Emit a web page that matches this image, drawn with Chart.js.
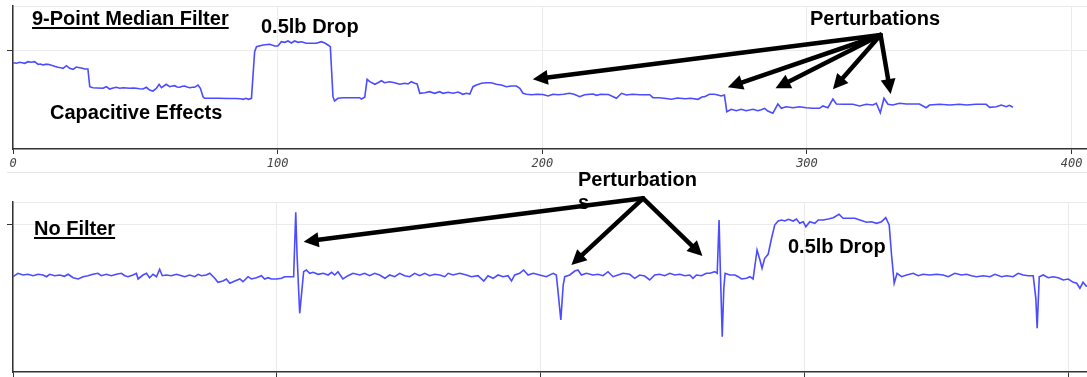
<!DOCTYPE html>
<html>
<head>
<meta charset="utf-8">
<script src="https://cdn.jsdelivr.net/npm/chart.js@4.4.1/dist/chart.umd.min.js"></script>
<style>
  html, body { margin:0; padding:0; background:#fff; width:1087px; height:377px; overflow:hidden; }
  #wrap { position:relative; width:1087px; height:377px; overflow:hidden; }
  canvas { position:absolute; left:0; }
  #c1 { top:0; }
  #c2 { top:170px; }
  .note { position:absolute; font-family:"Liberation Sans", Arial, sans-serif; font-weight:bold; font-size:20px; line-height:20px; color:#000; white-space:nowrap; z-index:2; }
  .ul { text-decoration:underline; text-decoration-thickness:2px; text-underline-offset:2px; }
  .rule { position:absolute; height:1px; background:#e6e6e6; }
</style>
</head>
<body>
<div id="wrap">
  <canvas id="c1" width="1087" height="176"></canvas>
  <canvas id="c2" width="1087" height="230"></canvas>
  <div class="rule" style="top:172px;left:7px;width:1080px;"></div>
  <div class="note ul" style="left:32px;top:8px;">9-Point Median Filter</div>
  <div class="note" style="left:261px;top:16px;">0.5lb Drop</div>
  <div class="note" style="left:50px;top:102px;">Capacitive Effects</div>
  <div class="note" style="left:810px;top:8px;">Perturbations</div>
  <div class="note" style="left:578px;top:168px;line-height:23px;">Perturbation<br>s</div>
  <div class="note ul" style="left:34px;top:218px;">No Filter</div>
  <div class="note" style="left:788px;top:236px;">0.5lb Drop</div>
</div>
<script>
// ---------- data: 9-point median filtered signal ----------
const filteredX = [0,1.3,2.5,3.5,4.4,5.7,6.9,8.2,9.5,10.4,11.3,12.2,13.2,14.2,15.1,16,17,18,18.9,20.2,21.4,22.7,23.9,25.2,26.2,27.1,28.3,
29,30.2,32,34,35.3,36.5,37.8,39.1,40.3,41.6,42.9,44.1,45.4,46.6,47.8,49.1,50.4,51.6,52.9,54.2,55.2,56.1,57.9,59.2,60.2,61.1,62,63,64,64.9,65.8,66.8,67.7,68.6,69.9,70.8,
71.8,72.4,75,78,81,84,86,87,88,89,90.1,
91.3,92,94.5,97,98.9,100.1,101.4,102.7,103.9,105.2,106.4,107.7,109,110.8,112.7,114.6,116.5,117.8,119,119.9,
120.9,121.5,122.8,124.7,127,129,131,131.6,132.9,
133.8,134.8,136.7,137.9,139.2,140.4,142.3,144.2,146.1,148,149.3,150.5,151.8,152.7,
153.7,155.6,157.4,159.3,161.2,162.5,164.4,166.3,168.2,170,171.3,172.6,
173.8,175.1,177,178.9,180.7,182.6,184.5,186.4,188.3,190.2,191.5,
192.7,194,196,198,200.2,202.2,204,206,208,210.3,212,214.1,216,218,219.2,220.5,222,225,228,229.9,231.8,234,237,240.6,
241.8,244,246,248.8,251,254,256,258.8,260.5,261.3,263.2,265.1,266.3,267.6,268.8,
269.7,271.4,273.3,275.1,277,279.6,281.4,282.7,284,285.2,287.1,289,290.3,292.1,294.7,297.2,299.7,302.2,304.7,306,307.9,
309.8,311.1,313.6,317.3,319.9,322.4,324.9,326.2,327.7,329.1,330.6,332.4,335,337.5,340,342.5,345,346.3,350.1,353.9,357.6,360.2,363.9,367.7,369,371.5,373.4,375.3,376.5,377.8];
const filteredY = [86.3,85.7,86.7,86.2,85.7,87.3,86.7,87.3,84.7,85,84,84.6,84.7,84,83.3,82.5,81.7,81.2,80.7,83.3,80.7,79.7,82,81.3,80.7,80,80,
62.3,61.3,61,60.7,62.3,60,61,61.7,60.7,61.3,61,60.7,61,60.7,60.3,60,61.7,59,58,60.7,64.7,61.3,64.7,62.3,63,63.3,62,61.7,62.7,63,62,61.3,61.7,61.7,64,60.7,
52.3,50.7,50.7,50.7,50.5,50.5,50.2,49.7,50.7,49.7,50.7,
97.3,102.3,104,104.7,103,103,107.3,106.7,108,106,108,106.7,107.3,105.7,105.7,105.7,107.3,106,104,102.3,
52.3,48,50.7,51.3,51.3,51.3,51.3,50,51.7,
69.7,67.3,64.7,66.3,68.3,66.3,67.3,66.3,64.7,65.7,65,67.3,65.7,65,
55.7,56.3,57.3,55.7,57.3,55.7,56.7,55.7,57,54.7,55.7,55,
62.3,64,65.7,66.3,66.3,64.7,64,62.3,63,63,60.7,
55.7,54.7,54.3,54.7,54.5,53,54.7,54.3,54.7,55.7,54.7,52.3,54.3,54.7,55,53.7,54.7,54.5,50.7,55.7,54,54.7,54.3,54.3,
51.3,51.3,50.7,49.7,51,50.3,50.7,49.7,52.3,52.3,54.7,54.7,54,53,54,
37.3,39.7,38.3,39.7,38.3,39.7,38.3,39.3,40.7,38,35.7,45,40.7,42.3,41.3,42.3,41.3,40.7,40.7,43,41.3,
50,45,44.7,44.7,43,44.7,44,45.7,36.3,50.7,44.7,44,45.7,45,45,45,41.3,44,44.7,44,44.7,44,44.7,44.7,41.7,42.3,44,42.3,43.7,41.7];

// ---------- data: unfiltered signal ----------
const rawX = [0,1.9,3.8,5.7,7.6,9.5,11.4,12.7,13.9,15.8,17.7,19.5,20.9,22.8,24.7,26.6,28.4,30.3,32.2,33.5,35.4,37.3,39.2,41.1,42.4,43.6,45.5,46.8,47.4,49.3,50.6,51.8,53.1,54.4,55.6,56.6,58.1,60,62,63.9,65.1,67,68.9,70.2,71.4,73.3,74.6,
76.5,77.7,79.6,80.9,82.2,84.1,86,87.2,89.1,90.4,92.3,94.2,95.4,96.7,98,99.9,101.8,103,104.9,106.4,
107.2,107.7,108.7,109.6,110.2,111.2,112.5,113.8,115.7,117.6,119.5,120.8,122,123.2,125.1,127,128.9,131.5,133.3,135.2,137.1,139,141,142.8,144.7,146.6,148.5,150.4,152.3,154.2,156.1,158,159.9,161.8,163.7,165,166.8,169.4,171.9,173.8,176.3,178.5,180.1,182,183.9,185.8,187.7,189,190.2,192.1,193.6,195.3,197.2,199.7,202.2,204.8,206,
206.9,207.7,208.6,209.2,211.1,213,214.2,215.5,217.4,219.9,221.8,223.7,225.6,227.5,229.4,231.3,233.8,235.7,237.6,239.5,241.4,243.3,245.2,247.1,249,250.9,252.8,254.7,256.6,257.8,259.1,261,262.9,264.2,266.1,267,
267.7,268.2,268.9,269.5,270,271.8,273.7,275,276.2,278.1,279.4,280.6,
282.1,283.2,284,285,286.3,287.6,288.8,290.1,291.4,292.6,293.9,295.8,297,298.3,299.6,300.6,302.1,304,305.3,307.2,309.1,311,313.2,314.7,317.3,319.2,321.1,323.6,325.5,327.4,329.3,330.9,332.2,
333.1,334.1,335.2,336.9,338.8,341.3,343.2,345.1,347.6,350.2,352.7,354.6,357.1,359.6,361.5,363.4,365.3,367.9,370.4,372.3,374.8,376.7,379.2,381.1,383,384.9,386.8,
387.8,388.3,389.1,390.6,392.5,394.4,396.3,398.2,400.1,402,403.3,404.5,405.7,407.1];
const rawY = [95.3,98.7,97,97.7,96.3,97.7,97,95.3,97.7,96.3,97,95.7,97.7,94.3,93,95.3,96.3,97.7,98.7,96.3,97.7,96.3,97.7,98.7,96.3,95.3,97,98.7,93,97,98.7,94.3,97.7,95.3,102.7,96.3,97,96.3,97.7,96.3,95.3,97,95.3,97.7,96.3,97,98.7,
93.7,89.7,91,93,88.7,91,93,90.3,95.3,93,94.3,96.3,93,94.3,93,93,93.7,95.3,95.3,95.3,
159.7,117,58.7,83.7,100.3,102,98.7,99.7,97.7,98.7,97,99.7,97,100.3,93,96.3,98.7,97,98.7,96.3,98.7,97,93.7,97,95.3,98.7,96.3,95.3,98.7,96.3,98.7,96.3,97.7,97,95.3,98.7,97,98.7,97,95.3,96.3,91,96.3,93.7,97,95.3,96.3,91,97,98.7,102,97,98.7,97,95.3,98.7,97,
73.7,52,87,95.3,97,101,102,97,98.7,97,97.7,96.3,100.3,95.3,97,98.7,97.7,93.7,97,96,92,97,97.7,96.3,98.7,97,97.7,96.3,97,93.7,97,96.3,98.7,98.7,100.3,98.7,
152,100.3,35.3,83.7,98.7,97,97,95.3,93,93.7,95.3,93,
122,112,103.7,113.7,117.7,133.7,147,151,152,151,152.7,151,153,148.7,150.3,145.3,150.3,148.7,152,152,153,154.3,157.7,153.7,153.7,153.7,152,149.7,150.3,148.7,150.3,154.3,147,
117,88.7,98.7,95.3,97,98.7,96.3,97.7,97,97.7,97,95.3,98.7,97,97.7,96.3,95.3,96.3,95.3,97.7,95.3,96.3,95.3,98.7,97,96.3,96.3,
73.7,43.7,95.3,97,94.3,95.3,94.3,92,93,89.7,88.7,83.7,89.7,85.3];

// ---------- axes ----------
const xTickValues = [0, 100, 200, 300, 400];
const topXMax = 405.8, bottomXMax = 407.2;
const topYMax = 143, topYTick = 99;
const bottomYMax = 170, bottomYTick = 147;

// ---------- annotation arrows (data coordinates) ----------
const topArrowFrom = [327.8, 114];
const topArrowTo = [[196.4, 69.7], [270.1, 61.7], [288.1, 60.7], [309.8, 59.7], [331.6, 55]];
const bottomArrowFrom = [238.9, 173.7];
const bottomArrowTo = [[110.2, 130.3], [211.7, 107], [261.4, 116]];

const arrowPlugin = {
  id: 'arrows',
  afterDatasetsDraw(chart, args, opts) {
    if (!opts || !opts.to) return;
    const xs = chart.scales.x, ys = chart.scales.y, ctx = chart.ctx;
    const x0 = xs.getPixelForValue(opts.from[0]), y0 = ys.getPixelForValue(opts.from[1]);
    ctx.save();
    ctx.strokeStyle = '#000'; ctx.fillStyle = '#000';
    ctx.lineWidth = 4.5; ctx.lineCap = 'round';
    opts.to.forEach(([tx, ty]) => {
      const x1 = xs.getPixelForValue(tx), y1 = ys.getPixelForValue(ty);
      const a = Math.atan2(y1 - y0, x1 - x0);
      const L = 15, W = 7.5;
      const bx = x1 - L * Math.cos(a), by = y1 - L * Math.sin(a);
      ctx.beginPath(); ctx.moveTo(x0, y0); ctx.lineTo(bx + 2*Math.cos(a), by + 2*Math.sin(a)); ctx.stroke();
      ctx.beginPath();
      ctx.moveTo(x1, y1);
      ctx.lineTo(bx + W * Math.sin(a), by - W * Math.cos(a));
      ctx.lineTo(bx - W * Math.sin(a), by + W * Math.cos(a));
      ctx.closePath(); ctx.fill();
    });
    ctx.restore();
  }
};

function pairs(xs, ys) { return xs.map((x, i) => ({ x: x, y: ys[i] })); }

function makeChart(id, xsArr, ysArr, xMax, yMax, yTick, padTop, xAxisH, arrowFrom, arrowTo) {
  return new Chart(document.getElementById(id), {
    type: 'line',
    data: { datasets: [{ data: pairs(xsArr, ysArr), borderColor: '#4b4bff', borderWidth: 1.6,
      pointRadius: 0, tension: 0, fill: false }] },
    options: {
      responsive: false, animation: false, devicePixelRatio: 1,
      layout: { padding: { top: padTop, left: 0, right: 0, bottom: 0 } },
      plugins: { legend: { display: false }, tooltip: { enabled: false },
        arrows: { from: arrowFrom, to: arrowTo } },
      scales: {
        x: { type: 'linear', min: 0, max: xMax,
          afterBuildTicks: s => { s.ticks = xTickValues.map(v => ({ value: v })); },
          afterFit: s => { s.height = xAxisH; },
          grid: { color: '#ebebeb', tickColor: '#333', tickLength: 5, lineWidth: 1 },
          border: { color: '#333', width: 1.5 },
          ticks: { padding: 3, color: '#444', maxRotation: 0, autoSkip: false,
            font: { family: 'DejaVu Sans Mono', size: 12, style: 'italic' } } },
        y: { type: 'linear', min: 0, max: yMax,
          afterBuildTicks: s => { s.ticks = [{ value: yTick }, { value: yMax }]; },
          afterFit: s => { s.width = 13; },
          grid: { color: '#ebebeb', tickLength: 6,
            tickColor: c => (c.tick && c.tick.value === yMax) ? 'rgba(0,0,0,0)' : '#333' },
          border: { color: '#333', width: 1.5 },
          ticks: { display: false } }
      }
    },
    plugins: [arrowPlugin]
  });
}

makeChart('c1', filteredX, filteredY, topXMax, topYMax, topYTick, 6, 27, topArrowFrom, topArrowTo);
makeChart('c2', rawX, rawY, bottomXMax, bottomYMax, bottomYTick, 32, 28, bottomArrowFrom, bottomArrowTo);
</script>
</body>
</html>
